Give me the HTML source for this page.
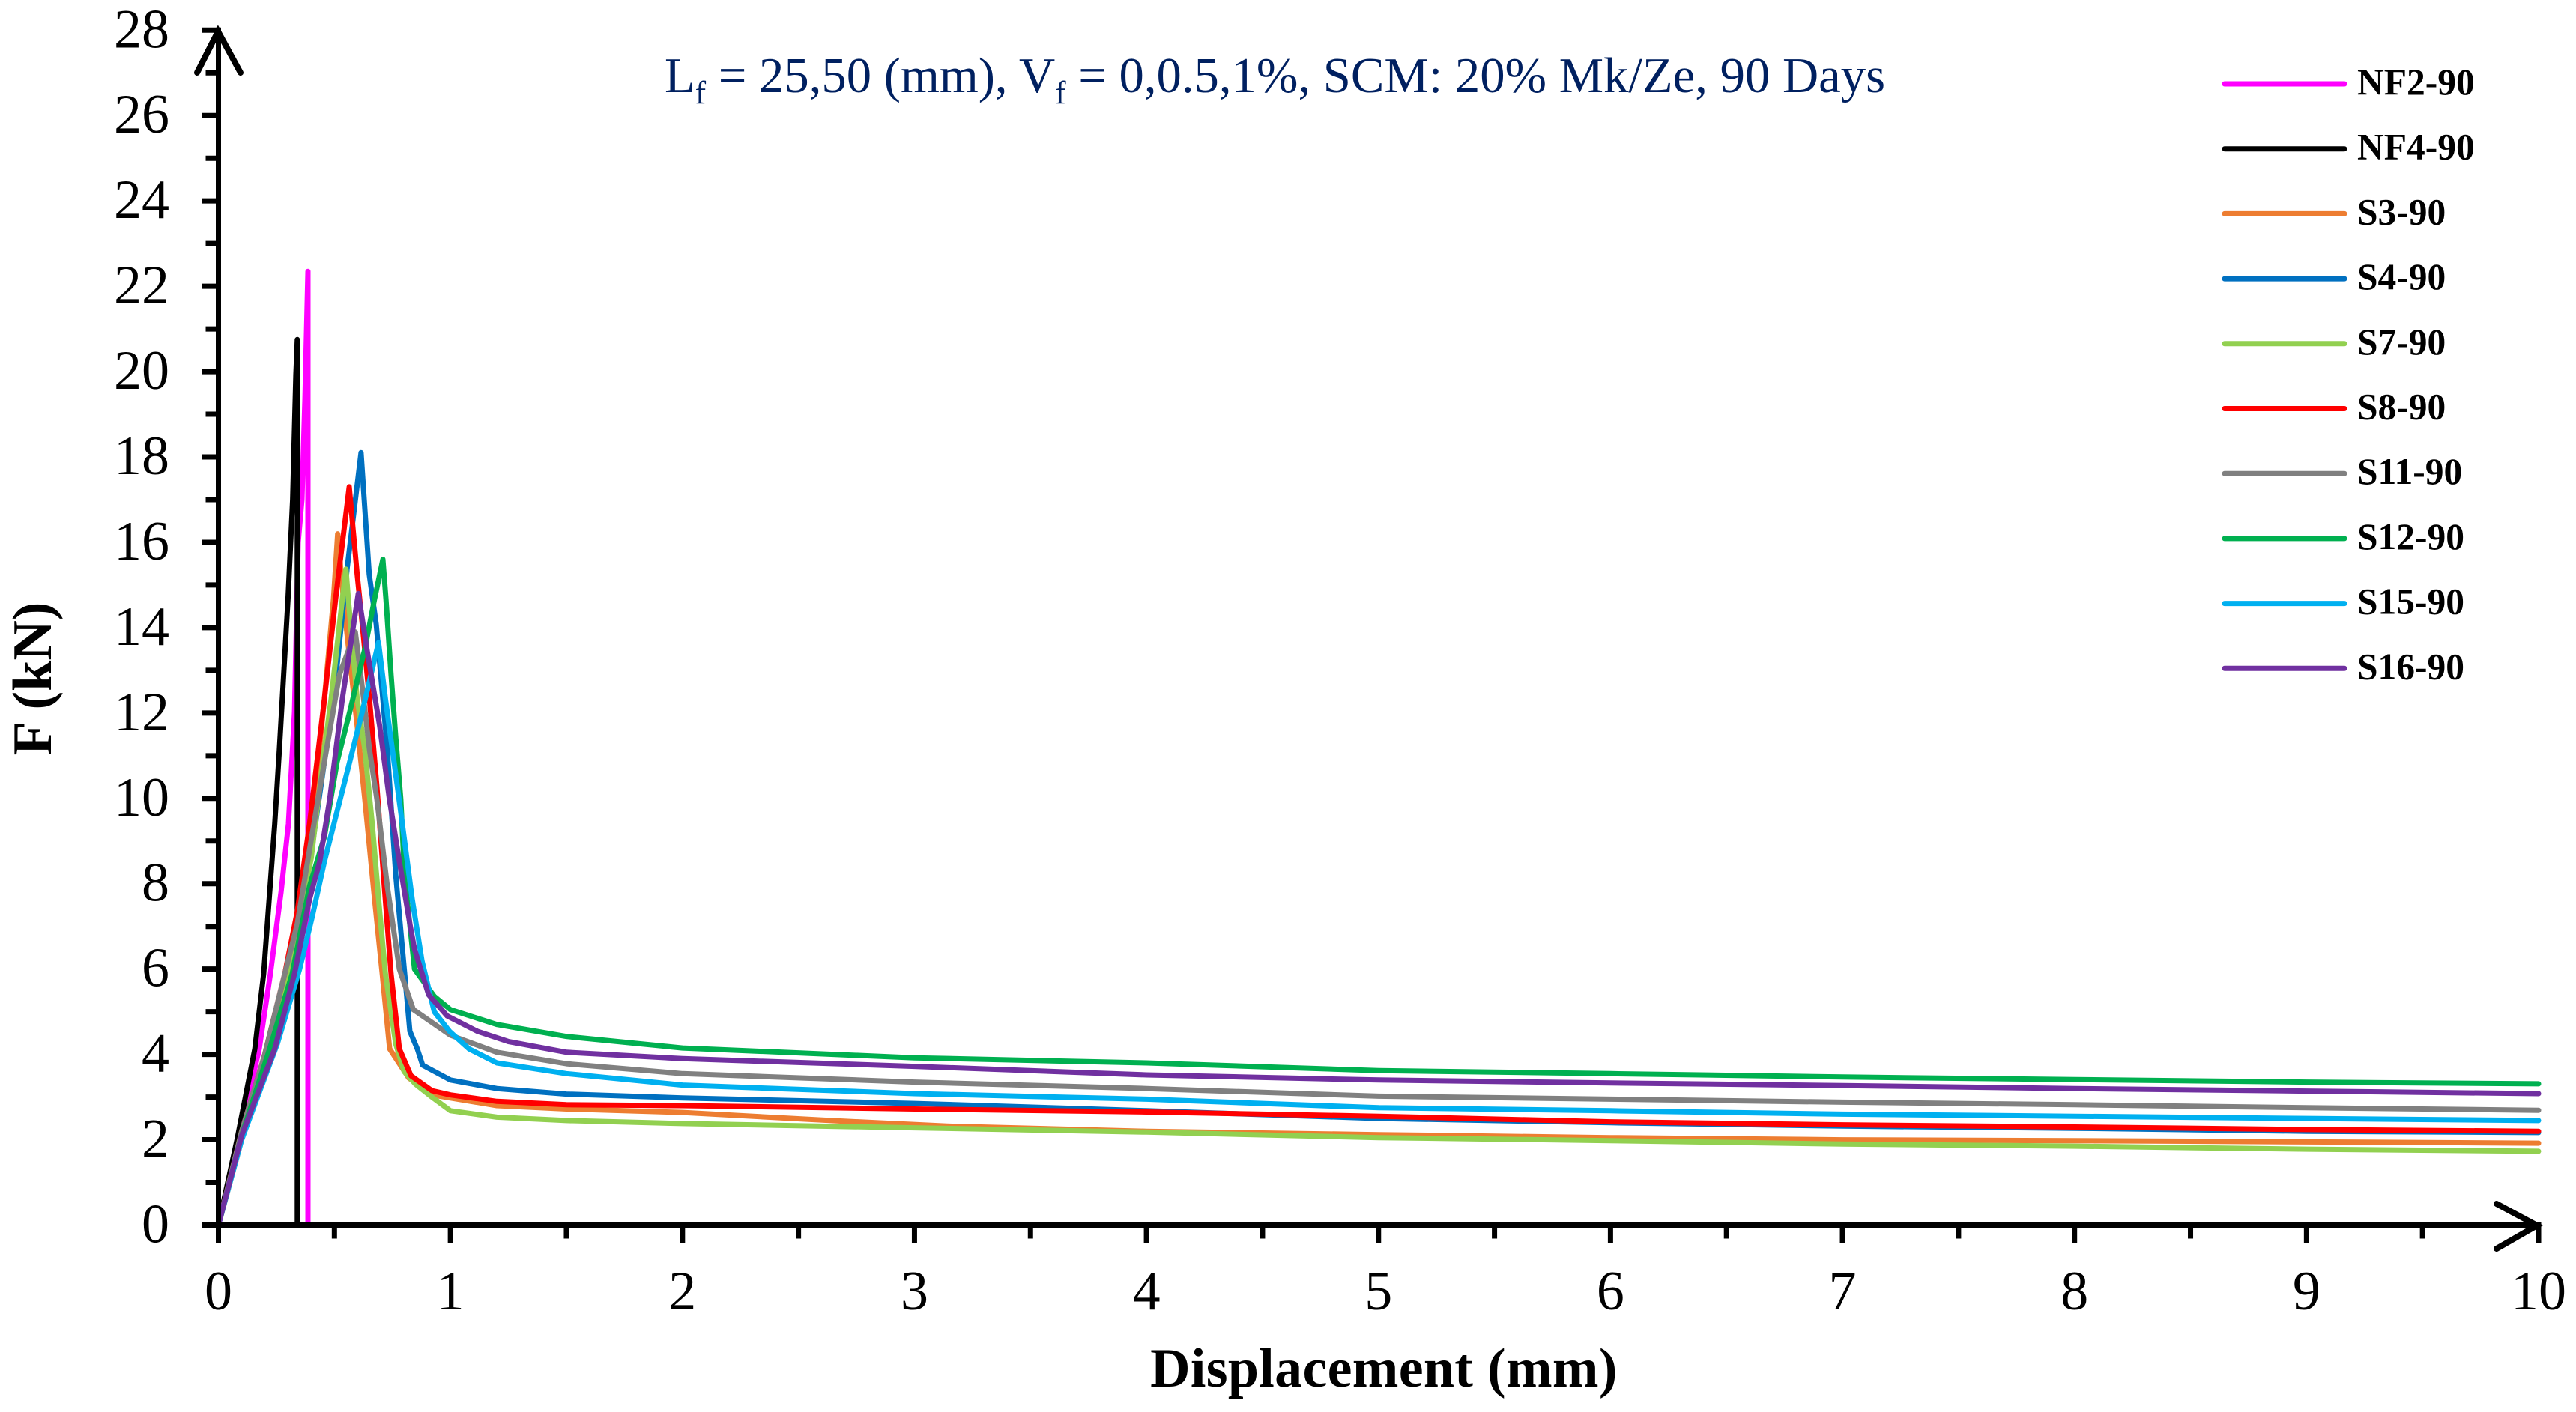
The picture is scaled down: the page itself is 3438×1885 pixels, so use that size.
<!DOCTYPE html>
<html lang="en">
<head>
<meta charset="utf-8">
<title>Force versus displacement chart</title>
<style>
html,body{margin:0;padding:0;background:#fff;width:3438px;height:1885px;overflow:hidden}
svg{display:block}
text{font-family:"Liberation Serif",serif;fill:#000}
</style>
</head>
<body>
<svg id="chart" xmlns="http://www.w3.org/2000/svg" width="3438" height="1885" viewBox="0 0 3438 1885">
  <rect x="0" y="0" width="3438" height="1885" fill="#fff"/>
  <g id="series-layer"></g>
  <g id="axis-layer"></g>
  <g id="legend-layer"></g>
  <text x="887" y="123" font-size="66.7" style="fill:#002060">L<tspan font-size="43" dy="15">f</tspan><tspan dy="-15"> = 25,50 (mm), V</tspan><tspan font-size="43" dy="15">f</tspan><tspan dy="-15"> = 0,0.5,1%, SCM: 20% Mk/Ze, 90 Days</tspan></text>
  <text x="1847" y="1851" font-size="74" font-weight="bold" text-anchor="middle" letter-spacing="0.3">Displacement (mm)</text>
  <text transform="translate(68 906) rotate(-90)" font-size="74" font-weight="bold" text-anchor="middle">F (kN)</text>
</svg>
<script>
const xTickLabels = ["0","1","2","3","4","5","6","7","8","9","10"];
const yTickLabels = ["0","2","4","6","8","10","12","14","16","18","20","22","24","26","28"];
const seriesNames = ["NF2-90","NF4-90","S3-90","S4-90","S7-90","S8-90","S11-90","S12-90","S15-90","S16-90"];
const seriesColors = ["#ff00ff","#000000","#ed7d31","#0070c0","#92d050","#ff0000","#808080","#00b050","#00b0f0","#7030a0"];

const nf2X = [0,0.1,0.176,0.224,0.27,0.302,0.328,0.344,0.36,0.373,0.386,0.386];
const nf2F = [0,2.3,4.13,5.89,7.8,9.4,12.03,16,17,19.35,22.35,0];
const nf4X = [0,0.08,0.157,0.195,0.243,0.263,0.30,0.32,0.334,0.34,0.34];
const nf4F = [0,2,4.13,5.89,9.4,11.15,14.67,17,19.93,20.75,0];
const s3X = [0,0.1,0.2,0.3,0.4,0.457,0.496,0.514,0.544,0.598,0.631,0.673,0.706,0.738,0.82,0.92,1.2,1.5,2,2.64,3.14,4,5,6,7,8,9,10];
const s3F = [0,2.0,3.7,6.0,9.2,12.33,14.67,16.2,14.37,11.7,9.98,7.64,5.89,4.13,3.45,3.05,2.8,2.72,2.64,2.45,2.32,2.2,2.12,2.05,2,1.98,1.95,1.92];
const s4X = [0,0.1,0.2,0.3,0.4,0.5,0.555,0.615,0.65,0.68,0.728,0.764,0.802,0.825,0.857,0.88,1,1.2,1.5,2,3,4,5,6,7,8,9,10];
const s4F = [0,2.1,3.8,5.9,8.7,12.5,15.4,18.1,15.25,14.08,11.15,8.22,5.94,4.54,4.13,3.75,3.4,3.2,3.07,2.98,2.85,2.68,2.5,2.4,2.32,2.27,2.2,2.17];
const s7X = [0,0.1,0.2,0.3,0.4,0.457,0.486,0.534,0.55,0.56,0.598,0.631,0.663,0.695,0.72,0.764,0.8,0.85,0.92,1,1.2,1.5,2,3,4,5,6,7,8,9,10];
const s7F = [0,2.1,3.9,5.9,8.6,11.15,12.33,14.67,15.37,14.67,12.33,11.15,9.4,7.35,5.89,4.25,3.6,3.3,3.0,2.68,2.53,2.45,2.38,2.28,2.18,2.05,1.98,1.9,1.85,1.78,1.73];
const s8X = [0,0.1,0.2,0.286,0.34,0.393,0.457,0.505,0.564,0.598,0.62,0.651,0.683,0.715,0.744,0.78,0.83,0.92,1,1.2,1.5,2,3,4,5,6,7,8,9,10];
const s8F = [0,2.2,4.0,5.89,7.35,9.4,12.33,14.67,17.3,15.25,14.08,12.33,10.28,7.94,5.89,4.13,3.5,3.15,3.05,2.9,2.82,2.8,2.72,2.65,2.55,2.42,2.35,2.3,2.24,2.2];
const s11X = [0,0.1,0.2,0.286,0.34,0.393,0.457,0.522,0.59,0.62,0.651,0.683,0.728,0.78,0.84,1,1.2,1.5,2,3,4,5,6,7,8,9,10];
const s11F = [0,2.2,4.0,5.89,7.06,8.8,10.86,12.9,13.9,12.6,11.15,9.98,7.94,6.0,5.05,4.45,4.05,3.78,3.55,3.35,3.2,3.02,2.95,2.88,2.82,2.75,2.69];
const s12X = [0,0.1,0.221,0.318,0.393,0.457,0.512,0.566,0.631,0.673,0.709,0.722,0.744,0.764,0.786,0.802,0.845,0.93,1,1.2,1.5,2,3,4,5,6,7,8,9,10];
const s12F = [0,2.1,4.13,5.89,7.94,9.1,10.86,12.03,13.5,14.67,15.6,14.67,12.9,11.45,9.98,8.22,6.0,5.36,5.05,4.7,4.42,4.15,3.92,3.8,3.62,3.55,3.47,3.41,3.35,3.31];
const s15X = [0,0.1,0.254,0.35,0.405,0.457,0.512,0.566,0.62,0.69,0.72,0.764,0.80,0.835,0.877,0.93,0.996,1.08,1.2,1.5,2,3,4,5,6,7,8,9,10];
const s15F = [0,2.0,4.25,6.0,7.24,8.52,9.7,10.86,12.03,13.65,12.33,10.57,9.1,7.64,6.2,5.0,4.54,4.13,3.8,3.55,3.28,3.08,2.95,2.75,2.68,2.6,2.55,2.5,2.45];
const s16X = [0,0.1,0.243,0.328,0.393,0.437,0.48,0.534,0.603,0.64,0.695,0.737,0.78,0.825,0.845,0.906,0.986,1.116,1.25,1.5,2,3,4,5,6,7,8,9,10];
const s16F = [0,2.1,4.13,5.89,7.64,8.52,9.98,12.33,14.8,13.5,11.7,9.98,8.52,7.06,6.47,5.4,4.9,4.54,4.3,4.05,3.9,3.72,3.52,3.4,3.33,3.27,3.2,3.14,3.08];

const NS = "http://www.w3.org/2000/svg";
const X0 = 291.5, X1 = 3388, XMAX = 10;
const Y0 = 1635.5, Y1 = 40.3, YMAX = 28;
const xAxis = v => X0 + (X1 - X0) * v / XMAX;
const yAxis = v => Y0 + (Y1 - Y0) * v / YMAX;

const seriesLayer = document.getElementById("series-layer");
const axisLayer = document.getElementById("axis-layer");
const legendLayer = document.getElementById("legend-layer");

function svgEl(tag, attrs, parent) {
  const el = document.createElementNS(NS, tag);
  for (const k in attrs) el.setAttribute(k, attrs[k]);
  parent.appendChild(el);
  return el;
}

/* series */
const seriesX = [nf2X,nf4X,s3X,s4X,s7X,s8X,s11X,s12X,s15X,s16X];
const seriesF = [nf2F,nf4F,s3F,s4F,s7F,s8F,s11F,s12F,s15F,s16F];
seriesNames.forEach((name, i) => {
  const pts = seriesX[i].map((x, j) => xAxis(x).toFixed(1) + "," + yAxis(seriesF[i][j]).toFixed(1)).join(" ");
  const line = svgEl("polyline", {points: pts, fill: "none", stroke: seriesColors[i], "stroke-width": 7, "stroke-linejoin": "round", "stroke-linecap": "round"}, seriesLayer);
  
  
});

/* axes */
const axisX = svgEl("line", {x1: xAxis(0) - 22, y1: yAxis(0), x2: xAxis(10) + 3.5, y2: yAxis(0), stroke: "#000", "stroke-width": 7}, axisLayer);


const axisY = svgEl("line", {x1: xAxis(0), y1: yAxis(0) + 24, x2: xAxis(0), y2: yAxis(28) - 3.5, stroke: "#000", "stroke-width": 7}, axisLayer);



for (let m = 0; m <= 20; m++) {
  const v = m * 0.5, major = m % 2 === 0;
  const t = svgEl("line", {x1: xAxis(v), y1: yAxis(0), x2: xAxis(v), y2: yAxis(0) + (major ? 24 : 18), stroke: "#000", "stroke-width": 7}, axisLayer);
  
  
}
for (let m = 0; m <= 28; m++) {
  const major = m % 2 === 0;
  const t = svgEl("line", {x1: xAxis(0), y1: yAxis(m), x2: xAxis(0) - (major ? 22 : 17), y2: yAxis(m), stroke: "#000", "stroke-width": 7}, axisLayer);
  
  
}
xTickLabels.forEach(label => {
  const t = svgEl("text", {x: xAxis(Number(label)), y: 1748, "font-size": 74, "text-anchor": "middle"}, axisLayer);
  t.textContent = label;
  
  
});
yTickLabels.forEach(label => {
  const t = svgEl("text", {x: 226, y: yAxis(Number(label)) + 23, "font-size": 74, "text-anchor": "end"}, axisLayer);
  t.textContent = label;
  
  
});

/* arrow heads */
const arrowY = svgEl("polyline", {points: [263,97, 291,42, 321,97].join(" "), fill: "none", stroke: "#000", "stroke-width": 8, "stroke-linecap": "round", "stroke-linejoin": "miter"}, axisLayer);


const arrowX = svgEl("polyline", {points: [3332,1607, 3386,1636, 3332,1667].join(" "), fill: "none", stroke: "#000", "stroke-width": 8, "stroke-linecap": "round", "stroke-linejoin": "miter"}, axisLayer);



/* legend */
seriesNames.forEach((name, i) => {
  const ly = 112 + i * 86.7;
  const sw = svgEl("line", {x1: 2969, y1: ly, x2: 3129, y2: ly, stroke: seriesColors[i], "stroke-width": 7, "stroke-linecap": "round"}, legendLayer);
  
  
  const tx = svgEl("text", {x: 3146, y: ly + 14, "font-size": 49.5, "font-weight": "bold"}, legendLayer);
  tx.textContent = name;
  
  
});
</script>
</body>
</html>
